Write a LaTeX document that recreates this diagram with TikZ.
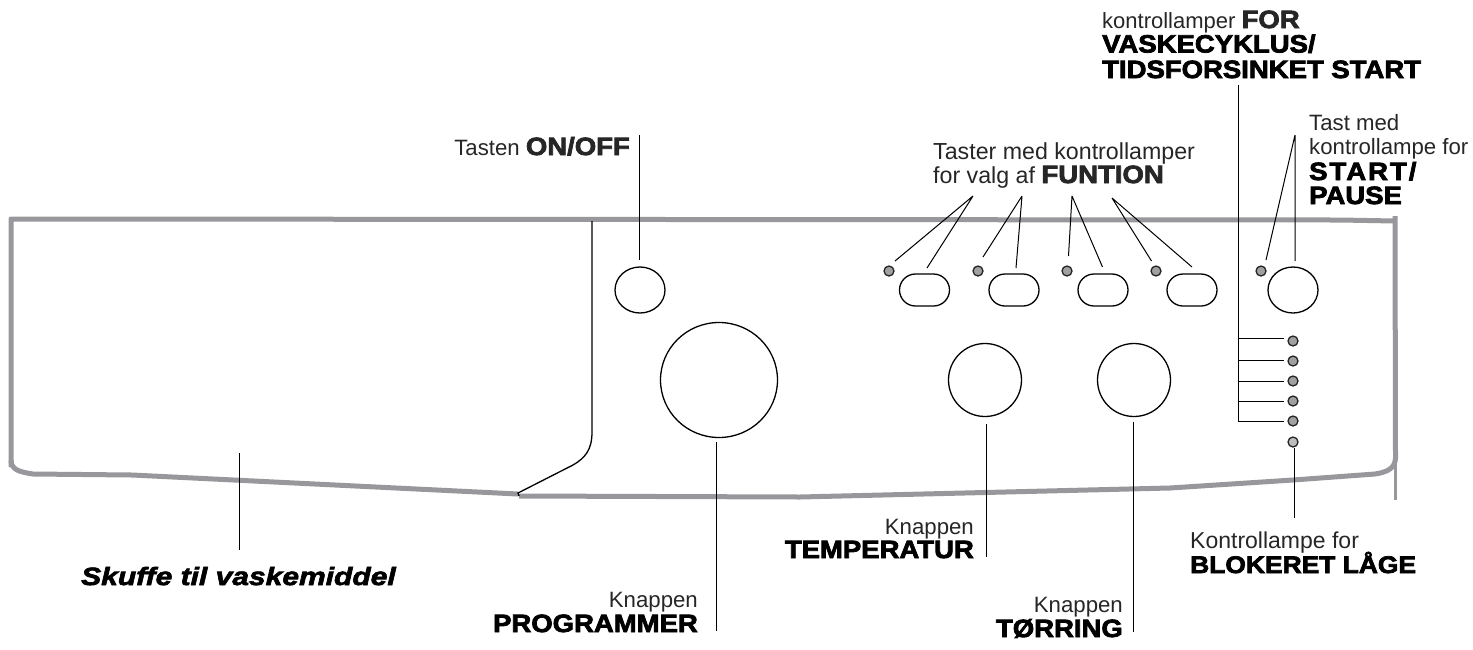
\documentclass[tikz,border=0pt]{standalone}
\usepackage{fontspec}
\setmainfont{Liberation Sans}
\newfontfamily\blk[FakeStretch=1.1,FakeBold=3]{Liberation Sans Bold}
\newfontfamily\blksp[FakeStretch=1.1,FakeBold=3,LetterSpace=8]{Liberation Sans Bold}
\newfontfamily\blkit[FakeStretch=1.2,FakeBold=2.6]{Liberation Sans Bold Italic}
\definecolor{panelgrey}{HTML}{98989C}
\definecolor{ledgrey}{HTML}{A0A0A0}
\usetikzlibrary{shapes.geometric,shapes.misc}
\newcommand{\bigblk}{\fontsize{25}{26}\selectfont\blk}
\newcommand{\bigblksp}{\fontsize{25}{26}\selectfont\blksp}
\tikzset{
  panel/.style={draw=panelgrey,line width=5pt,line join=round},
  leader/.style={draw=black,line width=1pt},
  led/.style={circle,draw=black!85,line width=1.3pt,fill=ledgrey,minimum size=10pt,inner sep=0pt},
  roundkey/.style={ellipse,draw=black,line width=1.3pt,inner sep=0pt},
  pillkey/.style={rounded rectangle,draw=black,line width=1.3pt,minimum width=50pt,minimum height=32pt,inner sep=0pt},
  lab/.style={inner sep=0pt,font=\fontsize{22.2}{25}\selectfont,text=black!85},
  heavy/.style={inner sep=0pt,text=black},
}
\begin{document}
\begin{tikzpicture}[x=1pt,y=-1pt]
\useasboundingbox (0,0) rectangle (1473,649);
% panel
\draw[panel] (11,467) -- (11,219) -- (1340,220) -- (1395,221);
\draw[panel] (11,460) .. controls (11,470) and (20,472) .. (33,474) -- (132,475) -- (518,494);
\draw[panel] (519,496) -- (800,497) -- (1170,488) -- (1293,480) -- (1375,474) .. controls (1388,472) and (1395,468) .. (1395.5,458) -- (1395,216);
\draw[draw=panelgrey,line width=3pt] (1395,460) -- (1395,500);
\draw[line width=1.3pt] (592,221) -- (592,432) .. controls (592,450) and (585,458) .. (573,465) -- (518,493) -- (519,496);
% keys
\node[roundkey,minimum width=50pt,minimum height=46pt] (onoff) at (640,290) {};
\node[roundkey,minimum width=117pt,minimum height=115pt] (prog) at (719,380) {};
\node[roundkey,minimum width=73pt,minimum height=73pt] (temp) at (985,380) {};
\node[roundkey,minimum width=73pt,minimum height=73pt] (torr) at (1134,380) {};
\node[roundkey,minimum width=50pt,minimum height=46pt] (start) at (1293,290) {};
\node[pillkey] (f1) at (924.5,290) {};
\node[pillkey] (f2) at (1014,290) {};
\node[pillkey] (f3) at (1103,290) {};
\node[pillkey] (f4) at (1192,290) {};
\node[led] (lf1) at (889,271) {};
\node[led] (lf2) at (978,271) {};
\node[led] (lf3) at (1067,271) {};
\node[led] (lf4) at (1156,271) {};
\node[led] (ls) at (1261,271) {};
\node[led] (c1) at (1293,341) {};
\node[led] (c2) at (1293,361) {};
\node[led] (c3) at (1293,381) {};
\node[led] (c4) at (1293,401) {};
\node[led] (c5) at (1293,421) {};
\node[led,fill=ledgrey!70] (c6) at (1293,442) {};
% leader ends
\coordinate (a1) at (973,196); \coordinate (a2) at (1022,196);
\coordinate (a3) at (1072,196); \coordinate (a4) at (1112,198);
\coordinate (a5) at (1295,135);
\coordinate (spine) at (1238,85); \coordinate (spineb) at (1238,422);
\draw[leader] (a1) -- (895,261) (a1) -- (927,268);
\draw[leader] (a2) -- (983,257) (a2) -- (1016,268);
\draw[leader] (a3) -- (1068.5,256) (a3) -- (1102.5,267);
\draw[leader] (a4) -- (1151.5,261) (a4) -- (1192,267);
\draw[leader] (a5) -- (1266,260) (a5) -- (1295,261);
\draw[leader] (spine) -- (spineb);
\draw[leader] (1238,338) -- (1284,338);
\draw[leader] (1238,360) -- (1284,360);
\draw[leader] (1238,381) -- (1284,381);
\draw[leader] (1238,401) -- (1284,401);
\draw[leader] (1238,421.5) -- (1284,421.5);
\draw[leader] (1294,448) -- (1294,518);
\draw[leader] (639,135) -- (639,260);
\draw[leader] (716.5,442) -- (716.5,631);
\draw[leader] (986,424) -- (986,557);
\draw[leader] (1133.5,422) -- (1133.5,632);
\draw[leader] (239,453) -- (239,550);
% labels
\node[lab,anchor=base east] (tonoff) at (630,155) {Tasten {\bigblk ON/OFF}};
\node[lab,anchor=base west,font=\fontsize{23.2}{25}\selectfont] (tfun1) at (933,159) {Taster med kontrollamper};
\node[lab,anchor=base west,font=\fontsize{23.2}{25}\selectfont] (tfun2) at (933,183) {for valg af {\bigblk FUNTION}};
\node[lab,anchor=base west,font=\fontsize{22}{25}\selectfont] (tv1) at (1102,28) {kontrollamper {\bigblk FOR}};
\node[heavy,anchor=base west] (tv2) at (1102,52.5) {\bigblk VASKECYKLUS/};
\node[heavy,anchor=base west] (tv3) at (1102,78) {\bigblk TIDSFORSINKET START};
\node[lab,anchor=base west] (ts1) at (1309,130) {Tast med};
\node[lab,anchor=base west] (ts2) at (1309,154) {kontrollampe for};
\node[heavy,anchor=base west] (ts3) at (1309,180) {\bigblksp START/};
\node[heavy,anchor=base west] (ts4) at (1309,204) {\bigblk PAUSE};
\node[lab,anchor=base east] (tp1) at (698,607) {Knappen};
\node[heavy,anchor=base east] (tp2) at (698,632) {\bigblk PROGRAMMER};
\node[lab,anchor=base east] (tt1) at (974,534) {Knappen};
\node[heavy,anchor=base east] (tt2) at (974,558) {\bigblk TEMPERATUR};
\node[lab,anchor=base east] (tr1) at (1123,612) {Knappen};
\node[heavy,anchor=base east] (tr2) at (1123,637) {\bigblk TØRRING};
\node[lab,anchor=base west,font=\fontsize{23}{25}\selectfont] (tb1) at (1190,548) {Kontrollampe for};
\node[heavy,anchor=base west] (tb2) at (1190,573) {\fontsize{24}{26}\selectfont\blk BLOKERET LÅGE};
\node[heavy,anchor=base west] (td) at (81,585) {\fontsize{25}{27}\selectfont\blkit Skuffe til vaskemiddel};
\end{tikzpicture}
\end{document}
